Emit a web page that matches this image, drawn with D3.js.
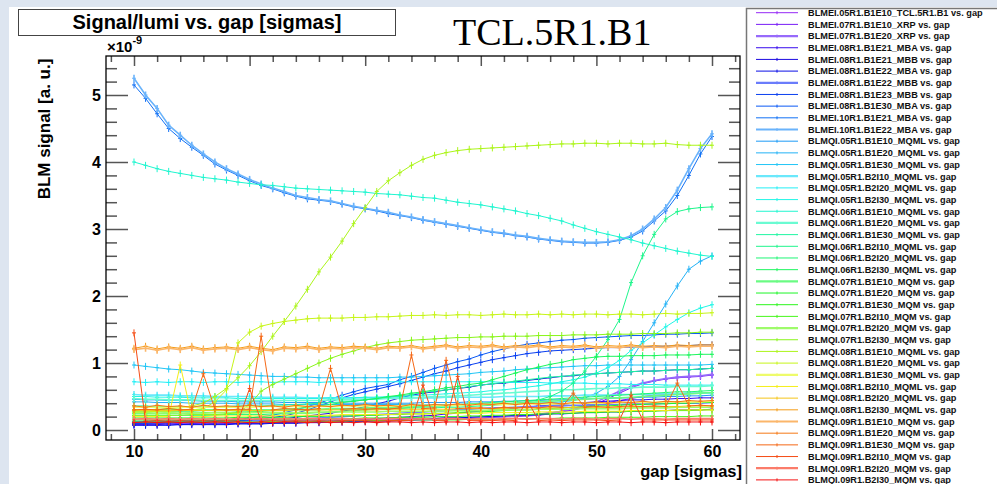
<!DOCTYPE html>
<html>
<head>
<meta charset="utf-8">
<script src="https://cdn.jsdelivr.net/npm/d3@7"></script>
<style>
  body { margin:0; background:#dde5f0; }
  svg { display:block; font-family:"Liberation Sans", Arial, sans-serif; }
</style>
</head>
<body>
<script>
// gap settings [sigmas]
var gaps = [10,11,12,13,14,15,16,17,18,19,20,21,22,23,24,25,26,27,28,29,30,31,32,33,34,35,
            36,37,38,39,40,41,42,43,44,45,46,47,48,49,50,51,52,53,54,55,56,57,58,59,60];

var names = [
  "BLMEI.05R1.B1E10_TCL.5R1.B1", "BLMEI.07R1.B1E10_XRP", "BLMEI.07R1.B1E20_XRP",
  "BLMEI.08R1.B1E21_MBA", "BLMEI.08R1.B1E21_MBB", "BLMEI.08R1.B1E22_MBA",
  "BLMEI.08R1.B1E22_MBB", "BLMEI.08R1.B1E23_MBB", "BLMEI.08R1.B1E30_MBA",
  "BLMEI.10R1.B1E21_MBA", "BLMEI.10R1.B1E22_MBA",
  "BLMQI.05R1.B1E10_MQML", "BLMQI.05R1.B1E20_MQML", "BLMQI.05R1.B1E30_MQML",
  "BLMQI.05R1.B2I10_MQML", "BLMQI.05R1.B2I20_MQML", "BLMQI.05R1.B2I30_MQML",
  "BLMQI.06R1.B1E10_MQML", "BLMQI.06R1.B1E20_MQML", "BLMQI.06R1.B1E30_MQML",
  "BLMQI.06R1.B2I10_MQML", "BLMQI.06R1.B2I20_MQML", "BLMQI.06R1.B2I30_MQML",
  "BLMQI.07R1.B1E10_MQM", "BLMQI.07R1.B1E20_MQM", "BLMQI.07R1.B1E30_MQM",
  "BLMQI.07R1.B2I10_MQM", "BLMQI.07R1.B2I20_MQM", "BLMQI.07R1.B2I30_MQM",
  "BLMQI.08R1.B1E10_MQML", "BLMQI.08R1.B1E20_MQML", "BLMQI.08R1.B1E30_MQML",
  "BLMQI.08R1.B2I10_MQML", "BLMQI.08R1.B2I20_MQML", "BLMQI.08R1.B2I30_MQML",
  "BLMQI.09R1.B1E10_MQM", "BLMQI.09R1.B1E20_MQM", "BLMQI.09R1.B1E30_MQM",
  "BLMQI.09R1.B2I10_MQM", "BLMQI.09R1.B2I20_MQM", "BLMQI.09R1.B2I30_MQM"
];

// signal/lumi in units of 1e-9, one value per gap
var s01 = [0.09,0.09,0.10,0.09,0.10,0.10,0.09,0.10,0.10,0.10, 0.11,0.10,0.11,0.11,0.11,0.12,0.11,0.12,0.12,0.12,
           0.13,0.13,0.13,0.14,0.14,0.15,0.15,0.16,0.16,0.17, 0.18,0.19,0.20,0.21,0.22,0.24,0.26,0.28,0.31,0.34,
           0.37,0.41,0.44,0.47,0.50,0.52,0.53,0.54,0.55,0.55,0.56];
var s02 = [0.13,0.13,0.14,0.13,0.14,0.14,0.13,0.14,0.14,0.14, 0.14,0.15,0.14,0.15,0.15,0.15,0.15,0.16,0.15,0.16,
           0.16,0.16,0.17,0.16,0.17,0.17,0.17,0.18,0.18,0.18, 0.19,0.19,0.20,0.20,0.21,0.22,0.24,0.27,0.30,0.34,
           0.39,0.47,0.55,0.63,0.69,0.73,0.76,0.78,0.79,0.80,0.82];
var s03 = [0.12,0.12,0.12,0.13,0.12,0.13,0.13,0.13,0.13,0.14, 0.14,0.14,0.14,0.14,0.15,0.15,0.15,0.15,0.15,0.16,
           0.16,0.16,0.16,0.17,0.17,0.17,0.17,0.18,0.18,0.19, 0.19,0.20,0.20,0.21,0.22,0.23,0.25,0.28,0.32,0.36,
           0.42,0.50,0.58,0.65,0.70,0.74,0.77,0.79,0.80,0.81,0.83];
var s04 = [0.08,0.08,0.08,0.09,0.08,0.09,0.09,0.09,0.09,0.10, 0.10,0.10,0.11,0.11,0.12,0.12,0.13,0.13,0.14,0.15,
           0.16,0.17,0.18,0.19,0.20,0.21,0.22,0.24,0.25,0.27, 0.28,0.30,0.31,0.33,0.34,0.36,0.37,0.38,0.40,0.41,
           0.42,0.43,0.44,0.45,0.45,0.46,0.46,0.47,0.47,0.48,0.48];
var s05 = [0.10,0.10,0.10,0.11,0.11,0.11,0.12,0.12,0.12,0.13, 0.14,0.15,0.16,0.17,0.19,0.21,0.23,0.25,0.28,0.31,
           0.35,0.39,0.43,0.48,0.52,0.55,0.57,0.60,0.62,0.64, 0.67,0.69,0.70,0.72,0.74,0.76,0.78,0.80,0.81,0.83,
           0.84,0.85,0.86,0.87,0.88,0.88,0.89,0.90,0.90,0.91,0.92];
var s06 = [0.07,0.07,0.07,0.07,0.08,0.08,0.08,0.08,0.08,0.09, 0.09,0.09,0.10,0.10,0.10,0.11,0.11,0.12,0.12,0.13,
           0.13,0.14,0.14,0.15,0.16,0.16,0.17,0.18,0.18,0.19, 0.20,0.20,0.21,0.22,0.22,0.23,0.24,0.24,0.25,0.26,
           0.26,0.27,0.27,0.28,0.28,0.29,0.29,0.30,0.30,0.30,0.31];
var s07 = [0.11,0.11,0.11,0.12,0.12,0.12,0.12,0.13,0.13,0.13, 0.14,0.14,0.15,0.15,0.16,0.17,0.18,0.19,0.20,0.21,
           0.22,0.23,0.24,0.25,0.26,0.27,0.28,0.29,0.30,0.31, 0.32,0.33,0.33,0.34,0.35,0.35,0.36,0.36,0.37,0.37,
           0.38,0.38,0.38,0.39,0.39,0.39,0.40,0.40,0.40,0.40,0.41];
var s08 = [0.10,0.10,0.11,0.11,0.11,0.12,0.12,0.13,0.13,0.14, 0.15,0.17,0.19,0.21,0.25,0.30,0.36,0.42,0.48,0.53,
           0.57,0.61,0.65,0.69,0.74,0.79,0.84,0.88,0.93,0.97, 1.01,1.05,1.08,1.11,1.14,1.16,1.18,1.19,1.20,1.21,
           1.22,1.23,1.23,1.24,1.24,1.25,1.25,1.26,1.26,1.27,1.27];
var s09 = [0.12,0.12,0.12,0.13,0.13,0.13,0.14,0.14,0.15,0.16, 0.18,0.20,0.22,0.26,0.30,0.35,0.40,0.46,0.52,0.57,
           0.62,0.65,0.68,0.75,0.80,0.86,0.92,0.97,1.02,1.06, 1.12,1.17,1.21,1.25,1.28,1.30,1.32,1.34,1.35,1.37,
           1.38,1.39,1.40,1.41,1.41,1.42,1.43,1.43,1.44,1.44,1.45];
var s10 = [5.15,4.95,4.72,4.50,4.35,4.22,4.10,3.97,3.88,3.80, 3.72,3.65,3.60,3.54,3.49,3.45,3.43,3.41,3.37,3.33,
           3.30,3.27,3.23,3.20,3.17,3.13,3.10,3.07,3.04,3.01, 2.98,2.95,2.93,2.90,2.88,2.85,2.83,2.81,2.80,2.79,
           2.79,2.80,2.83,2.88,2.97,3.12,3.27,3.50,3.80,4.12,4.38];
var s11 = [5.25,5.00,4.80,4.55,4.40,4.25,4.12,4.00,3.90,3.82, 3.74,3.67,3.61,3.56,3.50,3.47,3.44,3.42,3.38,3.34,
           3.31,3.28,3.25,3.21,3.18,3.14,3.11,3.08,3.05,3.02, 2.99,2.96,2.94,2.91,2.89,2.86,2.84,2.82,2.81,2.80,
           2.80,2.81,2.84,2.90,3.00,3.15,3.32,3.58,3.90,4.20,4.42];
var s12 = [0.46,0.45,0.45,0.44,0.44,0.44,0.43,0.43,0.43,0.42, 0.42,0.42,0.42,0.41,0.41,0.41,0.41,0.41,0.40,0.40,
           0.40,0.40,0.40,0.40,0.40,0.41,0.41,0.41,0.41,0.42, 0.42,0.42,0.43,0.43,0.44,0.44,0.45,0.45,0.46,0.46,
           0.47,0.47,0.48,0.48,0.49,0.49,0.50,0.50,0.51,0.51,0.52];
var s13 = [0.42,0.42,0.41,0.41,0.41,0.40,0.40,0.40,0.40,0.39, 0.39,0.39,0.39,0.38,0.38,0.38,0.38,0.38,0.38,0.38,
           0.38,0.38,0.38,0.38,0.38,0.38,0.38,0.38,0.38,0.39, 0.39,0.39,0.39,0.40,0.40,0.40,0.41,0.42,0.44,0.48,
           0.55,0.65,0.80,1.05,1.32,1.60,1.88,2.15,2.40,2.52,2.60];
var s14 = [0.97,0.95,0.93,0.91,0.90,0.88,0.86,0.85,0.84,0.83, 0.82,0.81,0.80,0.80,0.79,0.79,0.78,0.78,0.78,0.78,
           0.78,0.78,0.78,0.79,0.79,0.80,0.81,0.82,0.83,0.84, 0.86,0.87,0.88,0.90,0.91,0.92,0.93,0.94,0.95,0.96,
           0.96,0.97,0.97,0.97,0.97,0.97,0.97,0.97,0.97,0.97,0.98];
var s15 = [0.53,0.52,0.52,0.52,0.51,0.51,0.51,0.50,0.50,0.50, 0.50,0.49,0.49,0.49,0.49,0.48,0.48,0.48,0.48,0.48,
           0.48,0.48,0.48,0.48,0.48,0.48,0.48,0.49,0.49,0.49, 0.49,0.49,0.50,0.50,0.50,0.50,0.51,0.51,0.51,0.52,
           0.52,0.52,0.53,0.53,0.53,0.54,0.54,0.54,0.55,0.55,0.55];
var s16 = [0.72,0.71,0.72,0.71,0.72,0.72,0.71,0.72,0.72,0.71, 0.72,0.72,0.71,0.72,0.72,0.72,0.71,0.72,0.72,0.72,
           0.72,0.72,0.72,0.72,0.72,0.72,0.72,0.72,0.72,0.72, 0.72,0.72,0.71,0.71,0.71,0.71,0.70,0.70,0.70,0.70,
           0.69,0.69,0.69,0.68,0.68,0.68,0.67,0.67,0.67,0.67,0.67];
var s17 = [0.50,0.50,0.49,0.49,0.49,0.48,0.48,0.48,0.48,0.47, 0.47,0.47,0.47,0.47,0.47,0.47,0.47,0.48,0.48,0.48,
           0.49,0.49,0.50,0.50,0.51,0.52,0.53,0.54,0.55,0.56, 0.57,0.59,0.60,0.62,0.64,0.66,0.69,0.72,0.75,0.79,
           0.85,0.93,1.04,1.19,1.30,1.42,1.54,1.65,1.75,1.82,1.87];
var s18 = [4.00,3.95,3.90,3.86,3.83,3.80,3.77,3.75,3.73,3.70, 3.68,3.66,3.65,3.63,3.61,3.60,3.59,3.58,3.57,3.56,
           3.55,3.53,3.52,3.51,3.49,3.47,3.46,3.43,3.40,3.38, 3.36,3.33,3.30,3.27,3.23,3.20,3.16,3.12,3.06,3.01,
           2.96,2.92,2.88,2.84,2.79,2.75,2.71,2.67,2.64,2.61,2.59];
var s19 = [0.47,0.46,0.46,0.45,0.45,0.45,0.44,0.44,0.44,0.44, 0.44,0.44,0.44,0.44,0.44,0.44,0.44,0.45,0.45,0.45,
           0.46,0.46,0.47,0.47,0.48,0.49,0.50,0.50,0.51,0.52, 0.53,0.54,0.55,0.56,0.57,0.58,0.59,0.60,0.60,0.61,
           0.62,0.62,0.63,0.63,0.64,0.64,0.64,0.65,0.65,0.65,0.66];
var s20 = [0.36,0.36,0.35,0.35,0.35,0.35,0.35,0.35,0.35,0.36, 0.36,0.36,0.37,0.37,0.38,0.39,0.40,0.41,0.42,0.43,
           0.45,0.47,0.49,0.51,0.53,0.56,0.58,0.60,0.62,0.65, 0.67,0.69,0.71,0.73,0.75,0.77,0.79,0.80,0.82,0.83,
           0.84,0.85,0.86,0.87,0.88,0.88,0.89,0.90,0.90,0.91,0.92];
var s21 = [0.28,0.28,0.28,0.28,0.28,0.28,0.29,0.29,0.29,0.29, 0.29,0.29,0.30,0.30,0.30,0.30,0.30,0.31,0.31,0.31,
           0.31,0.32,0.32,0.32,0.33,0.33,0.33,0.34,0.34,0.35, 0.36,0.37,0.38,0.40,0.42,0.45,0.50,0.58,0.70,0.88,
           1.10,1.35,1.65,2.20,2.60,2.92,3.15,3.26,3.30,3.32,3.33];
var s22 = [0.22,0.22,0.22,0.22,0.22,0.22,0.22,0.22,0.23,0.23, 0.23,0.23,0.24,0.24,0.25,0.25,0.26,0.27,0.28,0.29,
           0.30,0.31,0.32,0.33,0.34,0.35,0.36,0.37,0.38,0.39, 0.40,0.41,0.42,0.43,0.44,0.45,0.46,0.47,0.48,0.49,
           0.50,0.51,0.52,0.53,0.54,0.55,0.56,0.57,0.57,0.58,0.59];
var s23 = [0.25,0.25,0.25,0.25,0.25,0.25,0.26,0.26,0.26,0.27, 0.27,0.28,0.29,0.30,0.32,0.34,0.36,0.38,0.41,0.43,
           0.45,0.47,0.50,0.52,0.55,0.57,0.60,0.63,0.65,0.68, 0.70,0.75,0.80,0.85,0.90,0.94,0.98,1.01,1.05,1.07,
           1.09,1.10,1.10,1.11,1.11,1.11,1.12,1.12,1.12,1.13,1.13];
var s24 = [0.30,0.30,0.30,0.30,0.30,0.30,0.30,0.30,0.30,0.30, 0.30,0.30,0.30,0.31,0.31,0.31,0.31,0.32,0.32,0.32,
           0.33,0.33,0.34,0.34,0.35,0.35,0.36,0.36,0.37,0.38, 0.38,0.39,0.40,0.40,0.41,0.42,0.43,0.44,0.45,0.46,
           0.47,0.48,0.48,0.49,0.50,0.51,0.52,0.53,0.54,0.55,0.56];
var s25 = [0.18,0.18,0.18,0.18,0.18,0.18,0.18,0.18,0.18,0.19, 0.19,0.19,0.19,0.19,0.20,0.20,0.20,0.21,0.21,0.21,
           0.22,0.22,0.23,0.23,0.24,0.24,0.25,0.25,0.26,0.27, 0.27,0.28,0.29,0.30,0.30,0.31,0.32,0.33,0.34,0.35,
           0.36,0.36,0.37,0.38,0.38,0.39,0.39,0.40,0.40,0.41,0.41];
var s26 = [0.15,0.15,0.15,0.15,0.15,0.15,0.15,0.15,0.15,0.15, 0.16,0.16,0.16,0.16,0.16,0.16,0.17,0.17,0.17,0.17,
           0.18,0.18,0.18,0.19,0.19,0.19,0.20,0.20,0.20,0.21, 0.21,0.22,0.22,0.23,0.23,0.24,0.24,0.25,0.25,0.26,
           0.26,0.27,0.27,0.28,0.28,0.28,0.29,0.29,0.29,0.30,0.30];
var s27 = [0.12,0.12,0.12,0.12,0.12,0.12,0.12,0.12,0.12,0.12, 0.12,0.12,0.13,0.13,0.13,0.13,0.13,0.13,0.13,0.14,
           0.14,0.14,0.14,0.14,0.15,0.15,0.15,0.15,0.15,0.16, 0.16,0.16,0.16,0.17,0.17,0.17,0.17,0.18,0.18,0.18,
           0.18,0.19,0.19,0.19,0.19,0.20,0.20,0.20,0.20,0.21,0.21];
var s28 = [0.26,0.26,0.25,0.26,0.25,0.26,0.25,0.26,0.26,0.25, 0.26,0.26,0.26,0.26,0.26,0.26,0.27,0.27,0.27,0.27,
           0.27,0.27,0.28,0.28,0.28,0.28,0.28,0.29,0.29,0.29, 0.29,0.30,0.30,0.30,0.30,0.31,0.31,0.31,0.31,0.32,
           0.32,0.32,0.32,0.33,0.33,0.33,0.33,0.34,0.34,0.34,0.34];
var s29 = [0.22,0.22,0.22,0.22,0.22,0.23,0.23,0.23,0.24,0.26, 0.38,0.58,0.68,0.76,0.84,0.92,1.00,1.07,1.13,1.18,
           1.23,1.27,1.30,1.32,1.34,1.35,1.36,1.37,1.38,1.38, 1.39,1.39,1.40,1.40,1.40,1.41,1.41,1.41,1.42,1.42,
           1.42,1.43,1.43,1.43,1.44,1.44,1.44,1.45,1.45,1.46,1.46];
var s30 = [0.30,0.30,0.31,0.32,0.33,0.36,0.40,0.50,0.62,0.78, 0.96,1.17,1.40,1.62,1.85,2.10,2.36,2.58,2.82,3.08,
           3.32,3.56,3.72,3.84,3.95,4.04,4.10,4.14,4.17,4.19, 4.20,4.21,4.22,4.23,4.24,4.25,4.26,4.27,4.27,4.28,
           4.28,4.27,4.28,4.28,4.27,4.27,4.28,4.26,4.25,4.25,4.25];
var s31 = [0.27,0.27,0.28,0.28,0.29,0.30,0.32,0.42,0.60,1.30, 1.46,1.55,1.59,1.62,1.64,1.66,1.67,1.67,1.67,1.68,
           1.68,1.69,1.69,1.70,1.71,1.71,1.72,1.71,1.72,1.72, 1.71,1.72,1.73,1.72,1.72,1.73,1.72,1.73,1.72,1.73,
           1.73,1.72,1.73,1.73,1.72,1.73,1.74,1.73,1.74,1.74,1.75];
var s32 = [0.34,0.34,0.34,0.34,0.34,0.34,0.34,0.34,0.34,0.34, 0.34,0.35,0.35,0.35,0.35,0.35,0.35,0.35,0.36,0.36,
           0.36,0.36,0.36,0.36,0.37,0.37,0.37,0.37,0.37,0.38, 0.38,0.38,0.38,0.38,0.39,0.39,0.39,0.39,0.40,0.40,
           0.40,0.40,0.41,0.41,0.41,0.41,0.42,0.42,0.42,0.42,0.43];
var s33 = [0.20,0.20,0.20,0.20,0.97,0.20,0.20,0.21,0.21,0.21, 0.21,0.21,0.21,0.22,0.22,0.22,0.22,0.22,0.23,0.23,
           0.23,0.23,0.23,0.24,0.24,0.24,0.24,0.25,0.25,0.25, 0.25,0.26,0.26,0.26,0.26,0.27,0.27,0.27,0.27,0.28,
           0.28,0.28,0.28,0.29,0.29,0.29,0.29,0.30,0.30,0.30,0.30];
var s34 = [0.29,0.29,0.29,0.29,0.29,0.29,0.29,0.29,0.29,0.29, 0.29,0.29,0.29,0.29,0.30,0.30,0.30,0.30,0.30,0.30,
           0.30,0.30,0.31,0.31,0.31,0.31,0.31,0.31,0.32,0.32, 0.32,0.32,0.32,0.33,0.33,0.33,0.33,0.33,0.34,0.34,
           0.34,0.34,0.34,0.35,0.35,0.35,0.35,0.35,0.36,0.36,0.36];
var s35 = [1.22,1.25,1.21,1.24,1.22,1.25,1.21,1.23,1.24,1.22, 1.25,1.22,1.20,1.24,1.23,1.25,1.22,1.24,1.23,1.25,
           1.24,1.22,1.25,1.24,1.26,1.23,1.25,1.27,1.24,1.26, 1.25,1.27,1.24,1.26,1.25,1.27,1.24,1.26,1.25,1.27,
           1.24,1.26,1.25,1.27,1.25,1.26,1.25,1.27,1.26,1.27,1.27];
var s36 = [1.20,1.22,1.19,1.22,1.20,1.23,1.19,1.21,1.22,1.20, 1.23,1.20,1.18,1.22,1.21,1.23,1.20,1.22,1.21,1.23,
           1.22,1.20,1.23,1.22,1.24,1.21,1.23,1.25,1.22,1.24, 1.23,1.25,1.22,1.24,1.23,1.25,1.22,1.24,1.23,1.25,
           1.22,1.24,1.23,1.25,1.23,1.24,1.23,1.25,1.24,1.25,1.25];
var s37 = [0.36,0.34,0.37,0.35,0.36,0.34,0.37,0.35,0.36,0.35, 0.37,0.35,0.36,0.34,0.37,0.35,0.36,0.35,0.37,0.36,
           0.38,0.36,0.37,0.35,0.38,0.36,0.38,0.37,0.39,0.37, 0.39,0.38,0.40,0.38,0.40,0.39,0.41,0.39,0.41,0.40,
           0.42,0.40,0.42,0.41,0.43,0.41,0.43,0.42,0.44,0.43,0.44];
var s38 = [0.30,0.31,0.30,0.32,0.30,0.31,0.84,0.31,0.30,0.31, 0.31,1.40,0.30,0.32,0.31,0.30,0.32,0.92,0.31,0.32,
           0.31,0.32,0.31,0.33,1.12,0.32,0.33,1.04,0.32,0.33, 0.33,0.32,0.34,0.33,0.34,0.33,0.35,0.34,0.55,0.34,
           0.35,0.34,0.35,0.36,0.35,0.36,0.35,0.70,0.36,0.37,0.36];
var s39 = [1.45,0.13,0.14,0.13,0.14,0.13,0.14,0.13,0.14,0.13, 0.62,0.13,0.14,0.13,0.14,0.13,0.14,0.13,0.14,0.14,
           0.14,0.13,0.14,0.14,0.14,0.67,0.14,0.14,0.80,0.14, 0.14,0.14,0.15,0.14,0.45,0.14,0.15,0.14,0.15,0.15,
           0.15,0.14,0.15,0.52,0.15,0.15,0.15,0.15,0.15,0.15,0.15];
var s40 = [0.16,0.17,0.16,0.17,0.16,0.17,0.16,0.17,0.16,0.17, 0.16,0.17,0.16,0.17,0.16,0.17,0.17,0.16,0.17,0.16,
           0.17,0.16,0.17,0.17,0.16,0.17,0.16,0.17,0.17,0.16, 0.17,0.16,0.17,0.17,0.16,0.17,0.17,0.16,0.17,0.17,
           0.16,0.17,0.17,0.16,0.17,0.17,0.16,0.17,0.17,0.17,0.17];
var s41 = [0.11,0.12,0.11,0.12,0.11,0.12,0.11,0.12,0.11,0.12, 0.11,0.12,0.11,0.12,0.12,0.11,0.12,0.11,0.12,0.11,
           0.12,0.11,0.12,0.12,0.11,0.12,0.11,0.12,0.12,0.11, 0.12,0.11,0.12,0.12,0.11,0.12,0.12,0.11,0.12,0.12,
           0.11,0.12,0.12,0.11,0.12,0.12,0.11,0.12,0.12,0.12,0.12];

var series = [s01,s02,s03,s04,s05,s06,s07,s08,s09,s10,s11,s12,s13,s14,s15,s16,s17,s18,s19,s20,
              s21,s22,s23,s24,s25,s26,s27,s28,s29,s30,s31,s32,s33,s34,s35,s36,s37,s38,s39,s40,s41];

var xTickLabels = [10, 20, 30, 40, 50, 60];
var yTickLabels = [0, 1, 2, 3, 4, 5];

// pastel (lighter, thicker) entries
var pastel = [2, 6, 10, 14, 18, 23, 27, 31, 35, 39];

var hue = d3.scaleLinear()
  .domain([0, 4, 8, 11, 15, 18, 22, 26, 29, 32, 34, 37, 40])
  .range([272, 245, 220, 205, 182, 163, 138, 108, 80, 58, 36, 22, 0]);
var light = d3.scaleLinear().domain([0, 4, 8, 12, 40]).range([0.56, 0.46, 0.5, 0.55, 0.52]);
function colour(k) {
  if (pastel.indexOf(k) >= 0) return d3.hsl(hue(k), 0.95, 0.7).toString();
  return d3.hsl(hue(k), 0.92, light(k)).toString();
}
function strokeW(k) { return pastel.indexOf(k) >= 0 ? 1.6 : 1; }

var frame = { left: 106, right: 740, top: 56, bottom: 440 };

var x = d3.scaleLinear().domain([7.578, 62.422]).range([frame.left, frame.right]);
var y = d3.scaleLinear().domain([-0.149, 5.582]).range([frame.bottom, frame.top]);

var svg = d3.select("body").append("svg").attr("width", 997).attr("height", 484);

svg.append("rect").attr("x", 9).attr("y", 7).attr("width", 990).attr("height", 480).attr("fill", "#fff");

svg.append("clipPath").attr("id", "plotclip").append("rect")
  .attr("x", frame.left).attr("y", frame.top)
  .attr("width", frame.right - frame.left).attr("height", frame.bottom - frame.top);

var plot = svg.append("g").attr("clip-path", "url(#plotclip)");

var line = d3.line()
  .x(function(d, i) { return x(gaps[i]); })
  .y(function(d) { return y(d); });

series.forEach(function(vals, k) {
  var c = colour(k);
  var g = plot.append("g");
  g.append("path").datum(vals).attr("d", line)
    .attr("fill", "none").attr("stroke", c).attr("stroke-width", strokeW(k));
  // error-bar style markers
  g.selectAll("line.ey").data(vals).enter().append("line")
    .attr("x1", function(d, i) { return x(gaps[i]); })
    .attr("x2", function(d, i) { return x(gaps[i]); })
    .attr("y1", function(d) { return y(d) - 3.5; })
    .attr("y2", function(d) { return y(d) + 3.5; })
    .attr("stroke", c).attr("stroke-width", strokeW(k));
  g.selectAll("line.ex").data(vals).enter().append("line")
    .attr("x1", function(d, i) { return x(gaps[i]) - 2; })
    .attr("x2", function(d, i) { return x(gaps[i]) + 2; })
    .attr("y1", function(d) { return y(d); })
    .attr("y2", function(d) { return y(d); })
    .attr("stroke", c).attr("stroke-width", 1);
});

// axes
var xMinor = d3.range(8, 63, 2).filter(function(v) { return v % 10 !== 0; });
var yMinor = d3.range(1, 28).map(function(v) { return v / 5; }).filter(function(v) { return v % 1 !== 0; });

function styleAxis(sel) {
  sel.select(".domain").remove();
  sel.selectAll(".tick line").attr("stroke", "#555").attr("stroke-width", 1.5);
  sel.selectAll(".tick text").attr("font-family", "Liberation Sans, Arial, sans-serif")
    .attr("font-weight", "bold").attr("font-size", 16).attr("fill", "#000");
}

svg.append("g").attr("transform", "translate(" + frame.left + ",0)")
  .call(d3.axisLeft(y).tickValues(yTickLabels).tickSize(-22).tickPadding(5).tickFormat(d3.format("d")))
  .call(styleAxis);
svg.append("g").attr("transform", "translate(" + frame.left + ",0)")
  .call(d3.axisLeft(y).tickValues(yMinor).tickSize(-11).tickFormat(""))
  .call(styleAxis);
svg.append("g").attr("transform", "translate(" + frame.right + ",0)")
  .call(d3.axisRight(y).tickValues(yTickLabels).tickSize(-22).tickFormat(""))
  .call(styleAxis);
svg.append("g").attr("transform", "translate(" + frame.right + ",0)")
  .call(d3.axisRight(y).tickValues(yMinor).tickSize(-11).tickFormat(""))
  .call(styleAxis);
svg.append("g").attr("transform", "translate(0," + frame.bottom + ")")
  .call(d3.axisBottom(x).tickValues(xTickLabels).tickSize(-11).tickPadding(6).tickFormat(d3.format("d")))
  .call(styleAxis);
svg.append("g").attr("transform", "translate(0," + frame.bottom + ")")
  .call(d3.axisBottom(x).tickValues(xMinor).tickSize(-6).tickFormat(""))
  .call(styleAxis);
svg.append("g").attr("transform", "translate(0," + frame.top + ")")
  .call(d3.axisTop(x).tickValues(xTickLabels).tickSize(-10).tickFormat(""))
  .call(styleAxis);
svg.append("g").attr("transform", "translate(0," + frame.top + ")")
  .call(d3.axisTop(x).tickValues(xMinor).tickSize(-6).tickFormat(""))
  .call(styleAxis);

svg.append("rect")
  .attr("x", frame.left).attr("y", frame.top)
  .attr("width", frame.right - frame.left).attr("height", frame.bottom - frame.top)
  .attr("fill", "none").attr("stroke", "#000").attr("stroke-width", 1.3);

// axis titles
svg.append("text").attr("x", 742).attr("y", 477).attr("text-anchor", "end")
  .attr("font-weight", "bold").attr("font-size", 16.5).text("gap [sigmas]");
svg.append("text").attr("transform", "translate(50,129) rotate(-90)").attr("text-anchor", "middle")
  .attr("font-weight", "bold").attr("font-size", 17).text("BLM signal [a. u.]");
var ex = svg.append("text").attr("x", 107).attr("y", 52).attr("font-weight", "bold").attr("font-size", 15);
ex.append("tspan").text("\u00d710");
ex.append("tspan").attr("dy", -8).attr("font-size", 11).text("-9");

// title box
svg.append("rect").attr("x", 18.5).attr("y", 9.5).attr("width", 377).attr("height", 26)
  .attr("fill", "#fff").attr("stroke", "#444").attr("stroke-width", 1);
svg.append("text").attr("x", 207).attr("y", 29).attr("text-anchor", "middle")
  .attr("font-weight", "bold").attr("font-size", 20).text("Signal/lumi vs. gap [sigmas]");

svg.append("text").attr("x", 453).attr("y", 45)
  .attr("font-family", "Liberation Serif, DejaVu Serif, serif").attr("font-size", 38)
  .text("TCL.5R1.B1");

// legend
svg.append("rect").attr("x", 746.5).attr("y", 8.5).attr("width", 300).attr("height", 500)
  .attr("fill", "#fff").attr("stroke", "#777").attr("stroke-width", 1.5);
var legend = svg.append("g");
var entry = legend.selectAll("g").data(names).enter().append("g")
  .attr("transform", function(d, k) { return "translate(0," + (12.7 + k * 11.68) + ")"; });
entry.append("line").attr("x1", 756).attr("x2", 798).attr("y1", 0).attr("y2", 0)
  .attr("stroke", function(d, k) { return colour(k); })
  .attr("stroke-width", function(d, k) { return pastel.indexOf(k) >= 0 ? 2.2 : 1; });
entry.append("line").attr("x1", 777).attr("x2", 777).attr("y1", -1.5).attr("y2", 1.5)
  .attr("stroke", function(d, k) { return colour(k); }).attr("stroke-width", 1);
entry.append("text").attr("x", 808).attr("y", 3.3)
  .attr("font-weight", "bold").attr("font-size", 9.2).attr("fill", "#111")
  .text(function(d) { return d + " vs. gap"; });
</script>
</body>
</html>
